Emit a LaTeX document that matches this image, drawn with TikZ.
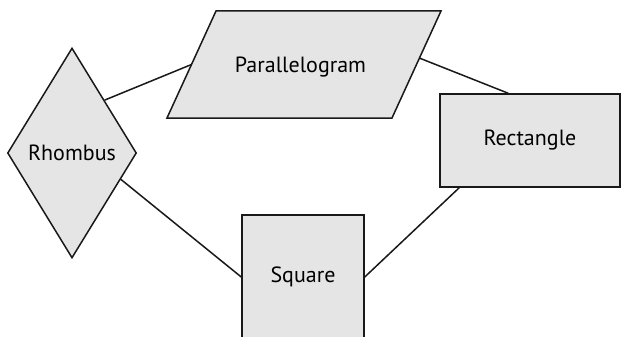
\documentclass[tikz,border=0pt]{standalone}
\usepackage{fontspec}
\setmainfont{PT Sans}
\usetikzlibrary{shapes.geometric,calc}
\begin{document}
\begin{tikzpicture}[x=1pt,y=-1pt,
  shapebox/.style={draw=black!90, fill=black!10, line width=1.5pt},
  link/.style={draw=black!90, line width=1.5pt},
  lbl/.style={font=\fontsize{22}{26}\selectfont, text=black}]
\useasboundingbox[fill=white] (0,0) rectangle (624,337);

% rhombus
\node[shapebox, diamond, minimum width=129pt, minimum height=210pt,
      inner sep=0pt, lbl] (rh) at (72,153) {Rhombus};

% parallelogram, drawn from its four corners
\coordinate (p1) at (216,11);
\coordinate (p2) at (441,11);
\coordinate (p3) at (392,118);
\coordinate (p4) at (167,118);
\draw[shapebox] (p1) -- (p2) -- (p3) -- (p4) -- cycle;
\node[lbl, anchor=base] (pl) at (300.5,72.5) {Parallelogram};
\coordinate (plw) at ($(p4)!0.5!(p1)$);
\coordinate (ple) at ($(p3)!0.56!(p2)$);

% rectangle
\node[shapebox, rectangle, minimum width=180pt, minimum height=93pt,
      inner sep=0pt, lbl] (rc) at (530,140.5) {Rectangle};

% square, its lower edge runs off the page
\node[shapebox, rectangle, minimum width=122pt, minimum height=124pt,
      inner sep=0pt, lbl] (sq) at (303,277) {Square};

% connectors
\draw[link] (rh.north east) -- (plw);
\draw[link] (ple) -- ($(rc.north west)!0.38!(rc.north east)$);
\draw[link] ($(rh.east)!0.25!(rh.south)$) -- (sq.west);
\draw[link] (sq.east) -- ($(rc.south west)!0.11!(rc.south east)$);
\end{tikzpicture}
\end{document}
